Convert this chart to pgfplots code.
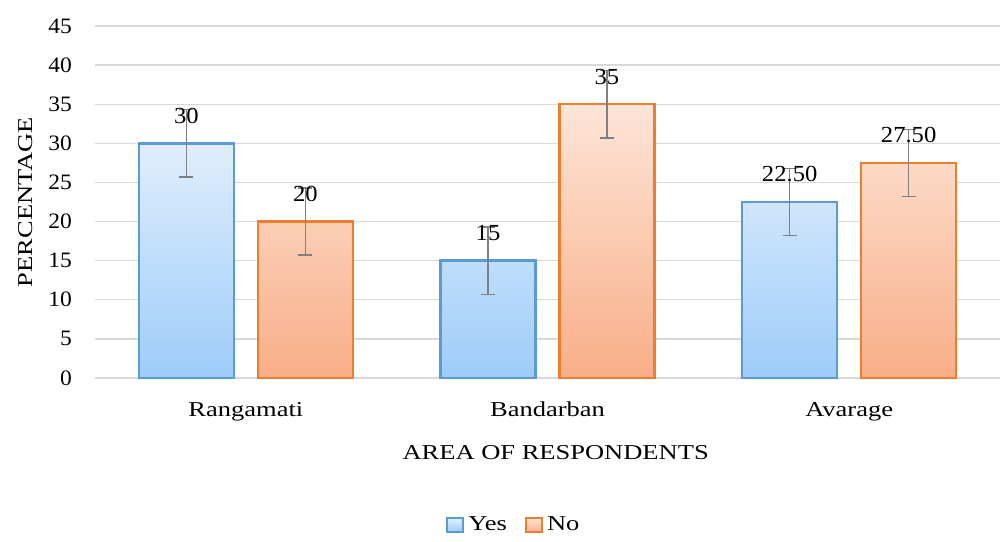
\documentclass[border=0pt]{standalone}
\usepackage{fontspec}
\setmainfont{Liberation Serif}[FakeStretch=1.25]
\newfontfamily\numfont{Liberation Serif}[FakeStretch=1.07]
\usepackage{pgfplots}
\pgfplotsset{compat=1.18}
\definecolor{bluebd}{RGB}{91,155,213}
\definecolor{bluetop}{RGB}{224,238,252}
\definecolor{bluebot}{RGB}{158,204,250}
\definecolor{orgbd}{RGB}{237,125,49}
\definecolor{orgtop}{RGB}{253,229,216}
\definecolor{orgbot}{RGB}{248,174,136}
\definecolor{gridc}{RGB}{217,217,217}
\definecolor{errc}{RGB}{128,128,128}
\begin{document}
\begin{tikzpicture}
\begin{axis}[
  scale only axis,
  width=452.5pt, height=176pt,
  xmin=-0.5, xmax=2.5,
  ymin=0, ymax=45,
  ytick={0,5,...,45},
  xtick={0,1,2},
  xticklabels={Rangamati,Bandarban,Avarage},
  axis x line*=bottom,
  axis y line*=left,
  y axis line style={draw=none},
  x axis line style={draw=gridc, line width=0.7pt, -},
  major tick length=0pt,
  ymajorgrids,
  grid style={draw=gridc, line width=0.7pt},
  /pgf/number format/assume math mode=true,
  yticklabel style={font=\fontsize{11}{13}\numfont, anchor=east, xshift=-8pt},
  xticklabel style={font=\fontsize{10.6}{12}\selectfont, anchor=base, yshift=-19.5pt},
  ylabel={PERCENTAGE},
  ylabel style={font=\fontsize{10.6}{12}\selectfont, at={(axis description cs:-0.0696,0.5)}, anchor=base, rotate=0},
  xlabel={AREA OF RESPONDENTS},
  xlabel style={font=\fontsize{10.6}{12}\selectfont, at={(axis description cs:0.509,0)}, anchor=base, yshift=-41pt},
  clip=false,
  bar width=47.5pt,
  nodes near coords,
  point meta=explicit symbolic,
  every node near coord/.append style={font=\fontsize{11.5}{13}\numfont, anchor=base, yshift=10pt, black},
  legend style={draw=none, at={(axis description cs:0.464,-0.418)}, anchor=center, legend columns=2,
    font=\fontsize{10.6}{12}\selectfont, inner xsep=0pt,
    /tikz/every even column/.append style={column sep=7pt}},
  legend image code/.code={\draw[#1, line width=1pt] (0pt,-3.5pt) rectangle (8pt,3.5pt);},
]
\addplot[ybar, bar shift=0pt, draw=bluebd, line width=1.2pt, top color=bluetop, bottom color=bluebot,
  error bars/.cd, y dir=both, y explicit,
  error bar style={draw=errc, line width=0.75pt},
  error mark options={draw=errc, line width=0.75pt, mark size=3.5pt, rotate=90}]
coordinates {(-0.1972,30) +- (0,4.3) [30] (0.8028,15) +- (0,4.3) [15] (1.8028,22.5) +- (0,4.3) [22.50]};
\addlegendentry{Yes}
\addplot[ybar, bar shift=0pt, draw=orgbd, line width=1.2pt, top color=orgtop, bottom color=orgbot,
  error bars/.cd, y dir=both, y explicit,
  error bar style={draw=errc, line width=0.75pt},
  error mark options={draw=errc, line width=0.75pt, mark size=3.5pt, rotate=90}]
coordinates {(0.1972,20) +- (0,4.3) [20] (1.1972,35) +- (0,4.3) [35] (2.1972,27.5) +- (0,4.3) [27.50]};
\addlegendentry{No}
\path (rel axis cs:0,0) ++(-47.5pt,-78.5pt) coordinate (bbsw);
\path (rel axis cs:1,1) ++(4pt,13pt) coordinate (bbne);
\end{axis}
\useasboundingbox (bbsw) rectangle (bbne);
\end{tikzpicture}
\end{document}
